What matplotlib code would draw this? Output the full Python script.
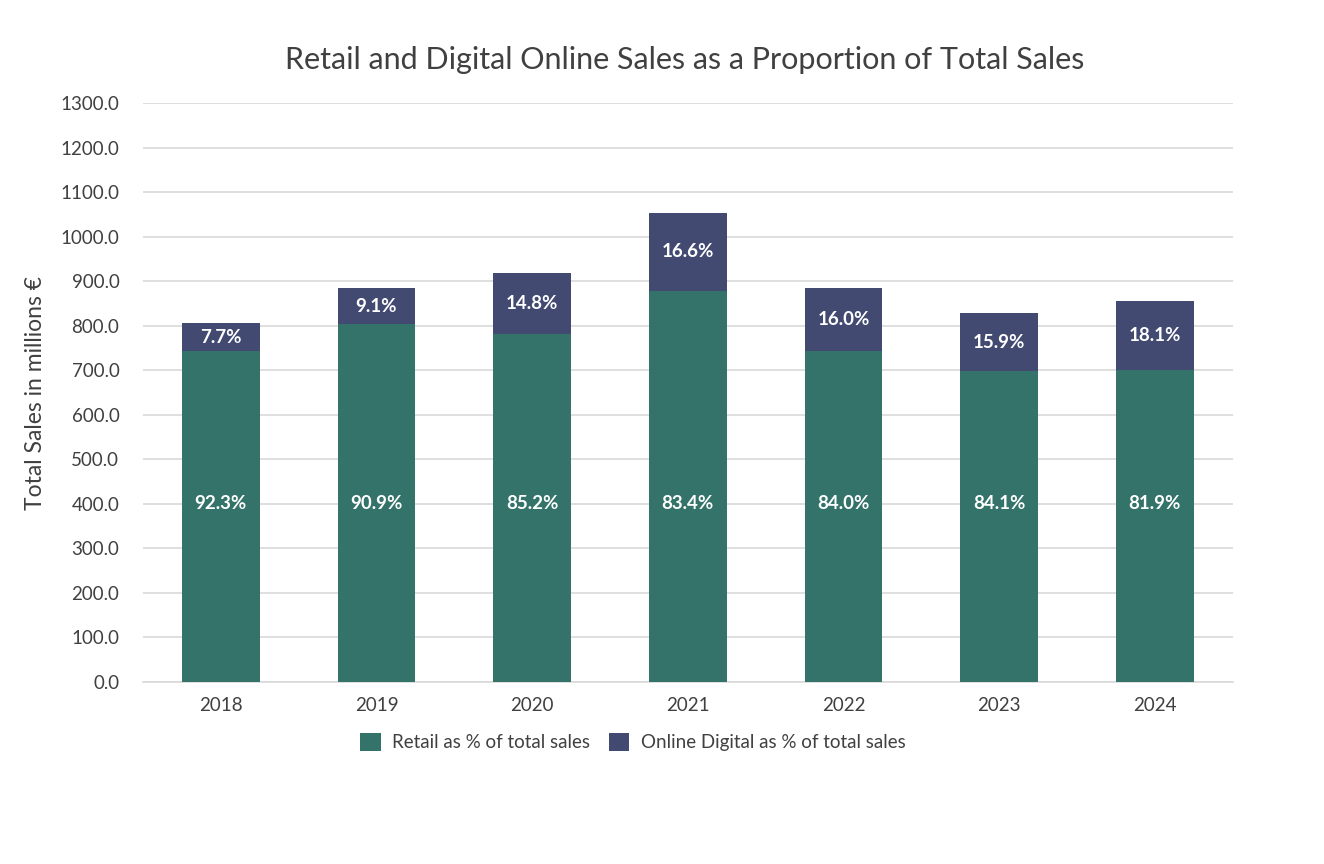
import matplotlib.pyplot as plt
import numpy as np

years = ['2018', '2019', '2020', '2021', '2022', '2023', '2024']
total_sales = [805, 884, 918, 1053, 884, 829, 855]
retail_pct = [92.3, 90.9, 85.2, 83.4, 84.0, 84.1, 81.9]
online_pct = [7.7, 9.1, 14.8, 16.6, 16.0, 15.9, 18.1]

retail = [t * p / 100 for t, p in zip(total_sales, retail_pct)]
online = [t * p / 100 for t, p in zip(total_sales, online_pct)]

green = '#33736A'
navy = '#434A72'

plt.rcParams['font.family'] = ['Lato', 'DejaVu Sans']

fig = plt.figure(figsize=(13.24, 8.64), dpi=100)
ax = fig.add_axes([0.108, 0.2106, 0.823, 0.6702])

x = np.arange(len(years))
ax.bar(x, retail, width=0.5, color=green, label='Retail as % of total sales', zorder=3)
ax.bar(x, online, width=0.5, bottom=retail, color=navy, label='Online Digital as % of total sales', zorder=3)

for i in range(len(years)):
    ax.text(x[i], 400, f'{retail_pct[i]:.1f}%', ha='center', va='center',
            color='white', fontsize=13.5, fontweight='bold', zorder=4)
    ax.text(x[i], retail[i] + online[i] / 2, f'{online_pct[i]:.1f}%', ha='center', va='center',
            color='white', fontsize=13.5, fontweight='bold', zorder=4)

ax.set_xlim(-0.5, len(years) - 0.5)
ax.set_ylim(0, 1300)
ax.set_yticks(np.arange(0, 1301, 100))
ax.set_yticklabels([f'{v:.1f}' for v in np.arange(0, 1301, 100)])
ax.set_xticks(x)
ax.set_xticklabels(years)
ax.tick_params(axis='both', length=0, labelsize=13.5, colors='#404040')
ax.tick_params(axis='y', pad=17)
ax.tick_params(axis='x', pad=11)
ax.grid(axis='y', color='#D9D9D9', linewidth=1.2, zorder=0)
for side in ['top', 'right', 'left']:
    ax.spines[side].set_visible(False)
ax.spines['bottom'].set_color('#D9D9D9')
ax.spines['bottom'].set_linewidth(1.2)

ax.set_ylabel('Total Sales in millions €', fontsize=16.5, color='#404040', labelpad=10)
fig.text(0.517, 0.9306, 'Retail and Digital Online Sales as a Proportion of Total Sales',
         ha='center', va='center', fontsize=22, color='#404040')

fig.legend(loc='center', bbox_to_anchor=(0.478, 0.141), ncol=2, frameon=False,
           fontsize=13.5, handlelength=1.1, handleheight=1.1, handletextpad=0.6,
           columnspacing=1.0, labelcolor='#404040')

fig.savefig('out.png', dpi=100)
